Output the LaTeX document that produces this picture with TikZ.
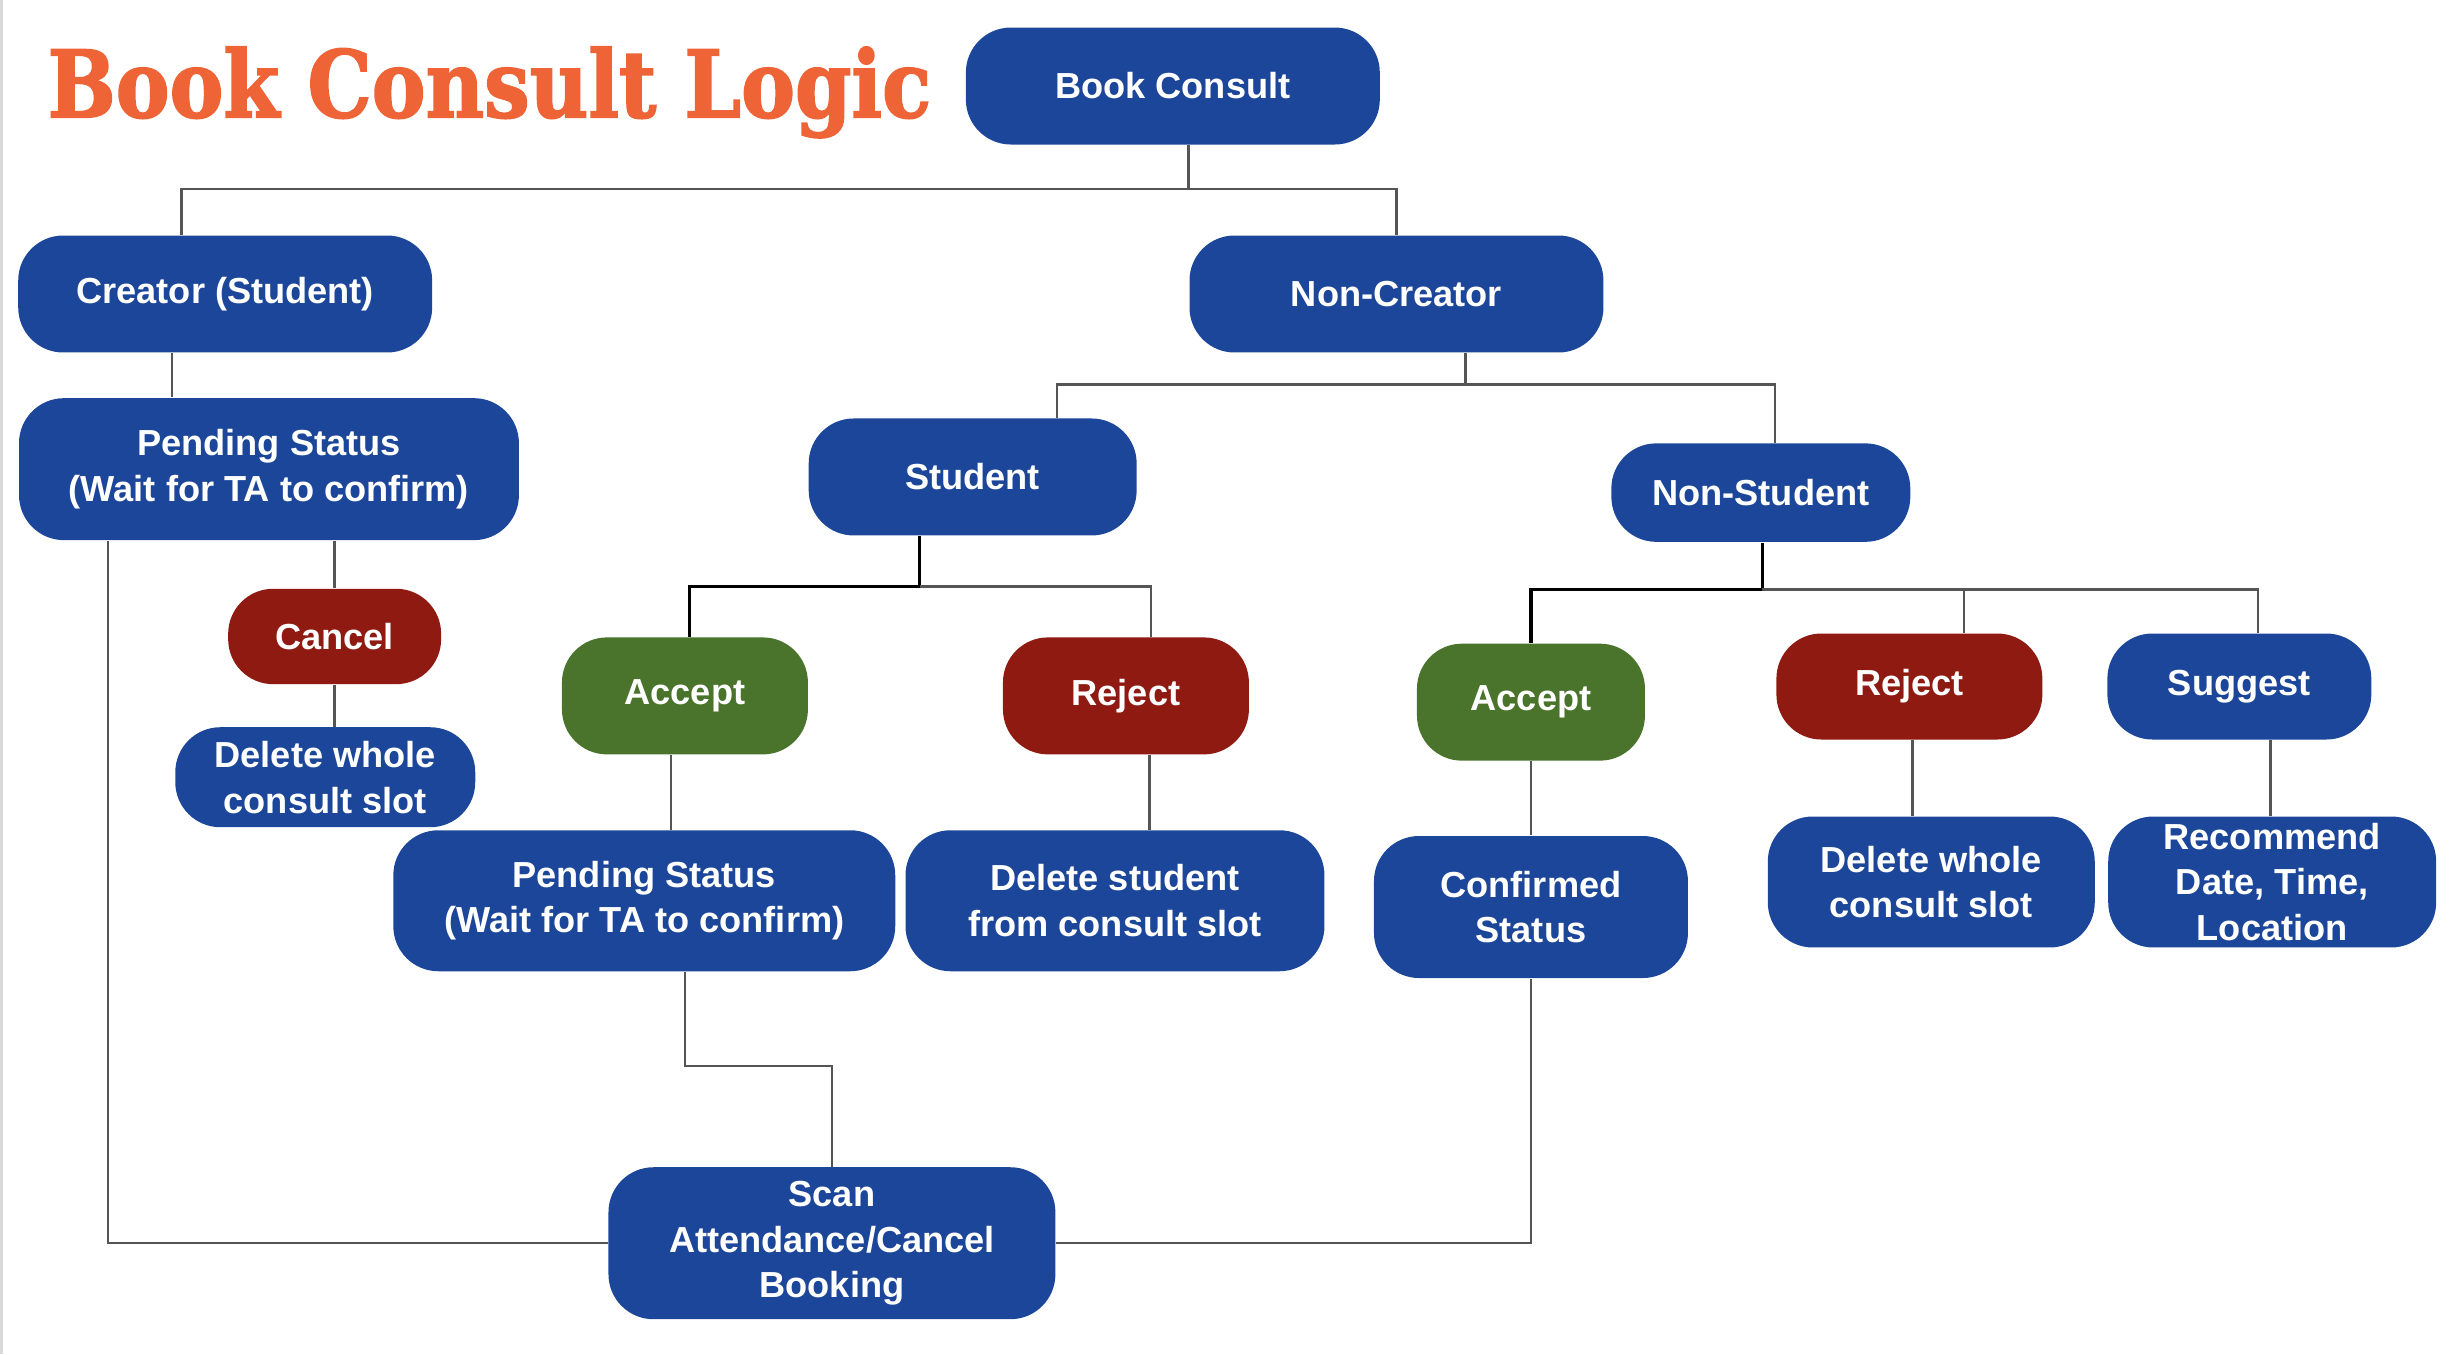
\documentclass[tikz,border=0pt]{standalone}
\usepackage{fontspec}
\usepackage{graphicx}
\setmainfont{Liberation Sans}
\newfontfamily\titlefont{DejaVu Serif}[BoldFeatures={FakeBold=2}]
\usetikzlibrary{calc}
\definecolor{nodeblue}{HTML}{1C4699}
\definecolor{nodered}{HTML}{8E1A12}
\definecolor{nodegreen}{HTML}{4A732C}
\definecolor{titleorange}{HTML}{EE6436}
\definecolor{linkgray}{HTML}{555555}
\tikzstyle{pill} = [rectangle, rounded corners=0.45cm, text centered, align=center, text=white, inner sep=0pt, font=\fontsize{10.3}{13}\selectfont\bfseries]
\tikzstyle{outcome} = [pill, fill=nodeblue]
\tikzstyle{refuse} = [pill, fill=nodered]
\tikzstyle{approve} = [pill, fill=nodegreen]
\tikzstyle{heading} = [anchor=base west, inner sep=0pt, text=titleorange, font=\fontsize{26.4}{30}\titlefont\bfseries]
\tikzstyle{link} = [draw=linkgray, line width=0.7pt]
\tikzstyle{linkdark} = [draw=black, line width=1pt]

\begin{document}
\begin{tikzpicture}[x=0.015638cm, y=-0.015638cm]

\useasboundingbox (0,0) rectangle (1568,866);
\draw [black!15, line width=0.8pt] (1,0) -- (1,866);

\node (title) [heading] at (30,75) {\scalebox{0.87}[1]{Book Consult Logic}};

\node (0) [outcome, minimum width=4.14cm, minimum height=1.17cm] at (750,55) {Book Consult};
\node (1) [outcome, minimum width=4.14cm, minimum height=1.17cm] at (144,188) {Creator (Student)};
\node (2) [outcome, minimum width=4.14cm, minimum height=1.17cm] at (893,188) {Non-Creator};
\node (3) [outcome, minimum width=5.00cm, minimum height=1.42cm] at (172,300) {Pending Status\\(Wait for TA to confirm)};
\node (4) [outcome, minimum width=3.28cm, minimum height=1.17cm] at (622,305) {Student};
\node (5) [outcome, minimum width=2.99cm, minimum height=0.985cm] at (1126,315) {Non-Student};
\node (6) [refuse, minimum width=2.13cm, minimum height=0.954cm] at (214,407) {Cancel};
\node (7) [outcome, minimum width=3.00cm, minimum height=1.00cm] at (208,497) {Delete whole\\consult slot};
\node (8) [approve, minimum width=2.46cm, minimum height=1.17cm] at (438,445) {Accept};
\node (9) [refuse, minimum width=2.46cm, minimum height=1.17cm] at (720,445) {Reject};
\node (10) [outcome, minimum width=5.02cm, minimum height=1.41cm] at (412,576) {Pending Status\\(Wait for TA to confirm)};
\node (11) [outcome, minimum width=4.19cm, minimum height=1.41cm] at (713,576) {Delete student\\from consult slot};
\node (12) [approve, minimum width=2.28cm, minimum height=1.17cm] at (979,449) {Accept};
\node (13) [refuse, minimum width=2.66cm, minimum height=1.06cm] at (1221,439) {Reject};
\node (14) [outcome, minimum width=2.64cm, minimum height=1.06cm] at (1432,439) {Suggest};
\node (15) [outcome, minimum width=3.14cm, minimum height=1.42cm] at (979,580) {Confirmed\\Status};
\node (16) [outcome, minimum width=3.27cm, minimum height=1.31cm] at (1235,564) {Delete whole\\consult slot};
\node (17) [outcome, minimum width=3.28cm, minimum height=1.31cm] at (1453,564) {Recommend\\Date, Time,\\Location};
\node (18) [outcome, minimum width=4.47cm, minimum height=1.52cm] at (532,795) {Scan\\Attendance/Cancel\\Booking};

% branch points
\coordinate (j0) at (760,121);
\coordinate (j1) at (937,246);
\coordinate (j2) at (588,375);
\coordinate (j3) at (1127,377);

\draw [link] ($(0.south)+(10,0)$) -- (j0);
\draw [link] (j0) -| ($(1.north)+(-28,0)$);
\draw [link] (j0) -| (2.north);
\draw [link] ($(1.south)+(-34,0)$) -- ($(3.north)+(-62,0)$);
\draw [link] ($(3.south)+(42,0)$) -- (6.north);
\draw [link] (6.south) -- ($(7.north)+(6,0)$);
\draw [link] ($(3.south)+(-103,0)$) |- (18.west);

\draw [link] ($(2.south)+(44,0)$) -- (j1);
\draw [link] (j1) -| ($(4.north)+(54,0)$);
\draw [link] (j1) -| ($(5.north)+(9,0)$);

\draw [linkdark] ($(4.south)+(-34,0)$) -- (j2);
\draw [linkdark] (j2) -| ($(8.north)+(3,0)$);
\draw [link] (j2) -| ($(9.north)+(16,0)$);
\draw [link] ($(8.south)+(-9,0)$) -- ($(10.north)+(17,0)$);
\draw [link] ($(9.south)+(15,0)$) -- ($(11.north)+(22,0)$);
\draw [link] ($(10.south)+(26,0)$) -- ++(0,60) -| (18.north);

\draw [linkdark] ($(5.south)+(1,0)$) -- (j3);
\draw [linkdark] (j3) -| (12.north);
\draw [link] (j3) -| ($(13.north)+(35,0)$);
\draw [link] (j3) -| ($(14.north)+(12,0)$);
\draw [link] (12.south) -- (15.north);
\draw [link] ($(13.south)+(2,0)$) -- ($(16.north)+(-12,0)$);
\draw [link] ($(14.south)+(20,0)$) -- ($(17.north)+(-1,0)$);
\draw [link] (15.south) |- (18.east);

\end{tikzpicture}
\end{document}
